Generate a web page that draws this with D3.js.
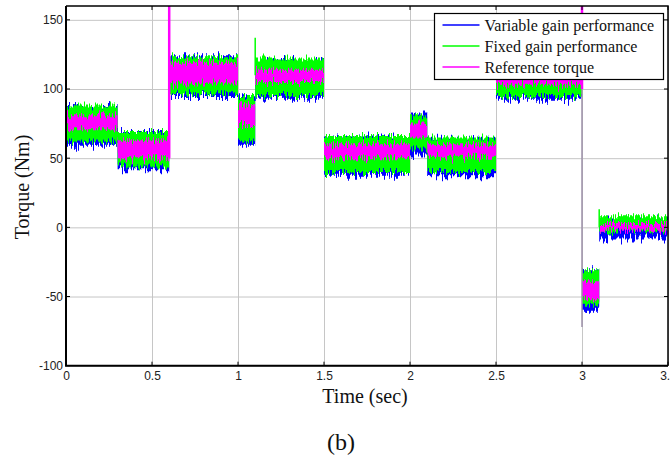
<!DOCTYPE html>
<html>
<head>
<meta charset="utf-8">
<script src="https://cdn.jsdelivr.net/npm/d3@7/dist/d3.min.js"></script>
<style>
body { margin: 0; background: #fff; }
svg { display: block; }
.tick text { font-family: "Liberation Sans", Arial, sans-serif; font-size: 12px; fill: #222; }
.grid line { stroke: #c6c6c6; stroke-width: 1; }
.grid .domain { display: none; }
.serif { font-family: "Liberation Serif", "Times New Roman", serif; fill: #111; }
</style>
</head>
<body>
<div id="chart"></div>
<script>
// torque test, step segments (sec)
var segStart = [0, 0.3, 0.6, 1.0, 1.1, 1.5, 2.0, 2.1, 2.5, 3.0, 3.1];
var tEnd = 3.5;

// envelope of each noisy trace per segment (Nm)
var varHi = [87, 69, 123, 94, 121, 65, 83, 64, 121, -31, 5];
var varLo = [59, 42, 95, 59, 93, 38, 52, 37, 93, -61, -8];
var fixHi = [88, 69, 123, 95, 122, 66, 81, 65, 122, -31, 8];
var fixLo = [62, 44, 97, 62, 95, 40, 57, 40, 95, -56, -3];
var refHi = [81, 63, 119, 89, 114, 60, 75, 60, 118, -39, 2.5];
var refLo = [71, 50, 104, 74, 105, 50, 65, 51, 103, -52, -2.5];

// switching transients (vertical strokes)
var spikeT = [0, 0.6, 1.1, 3.0, 3.0, 3.1];
var spikeLo = [0, 50, 110, -72, 100, 0];
var spikeHi = [82, 175, 137, 100, 175, 13];
var spikeSer = ["mix", "ref", "fix", "gray", "ref", "fix"];

var xTicks = [0, 0.5, 1, 1.5, 2, 2.5, 3, 3.5];
var yTicks = [-100, -50, 0, 50, 100, 150];

var legendNames = ["Variable gain performance", "Fixed gain performance", "Reference torque"];
var colors = { "var": "#0000ff", "fix": "#00ff00", "ref": "#ff00ff", "mix": "#8a3dd6", "gray": "#9c90a8" };

var W = 670, H = 457;
var margin = { top: 6, right: 2, bottom: 91.3, left: 66 },
    width = W - margin.left - margin.right,
    height = H - margin.top - margin.bottom;

var svg = d3.select("#chart").append("svg")
    .attr("width", W)
    .attr("height", H);

// noise texture for the sampled signals
var defs = svg.append("defs");
[["nVar", 3, 20], ["nFix", 11, 16], ["nRef", 27, 18]].forEach(function (f) {
    var flt = defs.append("filter").attr("id", f[0])
        .attr("x", "-2%").attr("y", "-20%").attr("width", "104%").attr("height", "140%")
        .attr("color-interpolation-filters", "sRGB");
    flt.append("feTurbulence").attr("type", "fractalNoise")
        .attr("baseFrequency", "0.8 0.015").attr("numOctaves", 2).attr("seed", f[1]).attr("result", "noise");
    flt.append("feColorMatrix").attr("in", "noise").attr("type", "matrix")
        .attr("values", "0 0 0 0 0.5  0 1 0 0 0  0 0 1 0 0  0 0 0 0 1").attr("result", "map");
    flt.append("feDisplacementMap").attr("in", "SourceGraphic").attr("in2", "map")
        .attr("scale", f[2]).attr("xChannelSelector", "R").attr("yChannelSelector", "G");
});
defs.append("clipPath").attr("id", "plotClip")
    .append("rect").attr("width", width).attr("height", height);

var g = svg.append("g").attr("transform", "translate(" + margin.left + "," + margin.top + ")");

var x = d3.scaleLinear().domain([0, 3.5]).range([0, width]),
    y = d3.scaleLinear().domain([-100, 160]).range([height, 0]);

// grid
g.append("g").attr("class", "grid")
    .attr("transform", "translate(0," + height + ")")
    .call(d3.axisBottom(x).tickValues(xTicks).tickSize(-height).tickFormat(""));
g.append("g").attr("class", "grid")
    .call(d3.axisLeft(y).tickValues(yTicks).tickSize(-width).tickFormat(""));

var plot = g.append("g").attr("clip-path", "url(#plotClip)");

function rows(lo, hi) {
    var r = segStart.map(function (t, i) { return { t: t, lo: lo[i], hi: hi[i] }; });
    r.push({ t: tEnd, lo: lo[lo.length - 1], hi: hi[hi.length - 1] });
    return r;
}

var band = d3.area()
    .curve(d3.curveStepAfter)
    .x(function (d) { return x(d.t); })
    .y0(function (d) { return y(d.lo); })
    .y1(function (d) { return y(d.hi); });

[["var", varLo, varHi, "nVar"], ["fix", fixLo, fixHi, "nFix"], ["ref", refLo, refHi, "nRef"]].forEach(function (s) {
    plot.append("g").attr("filter", "url(#" + s[3] + ")")
        .append("path")
        .datum(rows(s[1], s[2]))
        .attr("fill", colors[s[0]])
        .attr("d", band);
});

plot.selectAll(".spike")
    .data(spikeT)
    .enter().append("line")
    .attr("class", "spike")
    .attr("x1", function (d) { return x(d); })
    .attr("x2", function (d) { return x(d); })
    .attr("y1", function (d, i) { return y(spikeLo[i]); })
    .attr("y2", function (d, i) { return y(spikeHi[i]); })
    .attr("stroke", function (d, i) { return colors[spikeSer[i]]; })
    .attr("stroke-width", function (d, i) { return spikeSer[i] == "ref" ? 2.5 : 1.5; });

// axes
var xAxis = g.append("g")
    .attr("transform", "translate(0," + height + ")")
    .call(d3.axisBottom(x).tickValues(xTicks).tickSize(0).tickPadding(6)
        .tickFormat(function (d) { return String(d); }));
xAxis.select(".domain").remove();

var yAxis = g.append("g")
    .call(d3.axisLeft(y).tickValues(yTicks).tickSize(0).tickPadding(3)
        .tickFormat(function (d) { return String(d); }));
yAxis.select(".domain").remove();

// inward tick marks on all four sides
g.selectAll(".xt").data(xTicks).enter().append("path")
    .attr("d", function (d) { return "M" + x(d) + "," + height + "v-4M" + x(d) + ",0v4"; })
    .attr("stroke", "#000").attr("stroke-width", 1);
g.selectAll(".yt").data(yTicks).enter().append("path")
    .attr("d", function (d) { return "M0," + y(d) + "h4M" + width + "," + y(d) + "h-4"; })
    .attr("stroke", "#000").attr("stroke-width", 1);

// box
g.append("path")
    .attr("d", "M0,0V" + height + "H" + width)
    .attr("fill", "none").attr("stroke", "#000").attr("stroke-width", 2);
g.append("path")
    .attr("d", "M0,0H" + width + "V" + height)
    .attr("fill", "none").attr("stroke", "#000").attr("stroke-width", 1.5);

// labels
svg.append("text").attr("class", "serif")
    .attr("x", 365).attr("y", 403)
    .attr("text-anchor", "middle").style("font-size", "20px")
    .text("Time (sec)");
svg.append("text").attr("class", "serif")
    .attr("transform", "translate(29,187) rotate(-90)")
    .attr("text-anchor", "middle").style("font-size", "20px")
    .text("Torque (Nm)");
svg.append("text").attr("class", "serif")
    .attr("x", 341).attr("y", 450)
    .attr("text-anchor", "middle").style("font-size", "24px")
    .text("(b)");

// legend
var leg = svg.append("g").attr("transform", "translate(434.5,13.5)");
leg.append("rect")
    .attr("width", 229).attr("height", 66)
    .attr("fill", "#fff").attr("stroke", "#000").attr("stroke-width", 1.2);
var items = leg.selectAll(".item")
    .data(legendNames)
    .enter().append("g")
    .attr("transform", function (d, i) { return "translate(0," + (11.5 + i * 21) + ")"; });
items.append("line")
    .attr("x1", 8).attr("x2", 45)
    .attr("stroke", function (d, i) { return colors[["var", "fix", "ref"][i]]; })
    .attr("stroke-width", 1.5);
items.append("text").attr("class", "serif")
    .attr("x", 50).attr("y", 6)
    .style("font-size", "16px")
    .text(function (d) { return d; });
</script>
</body>
</html>
